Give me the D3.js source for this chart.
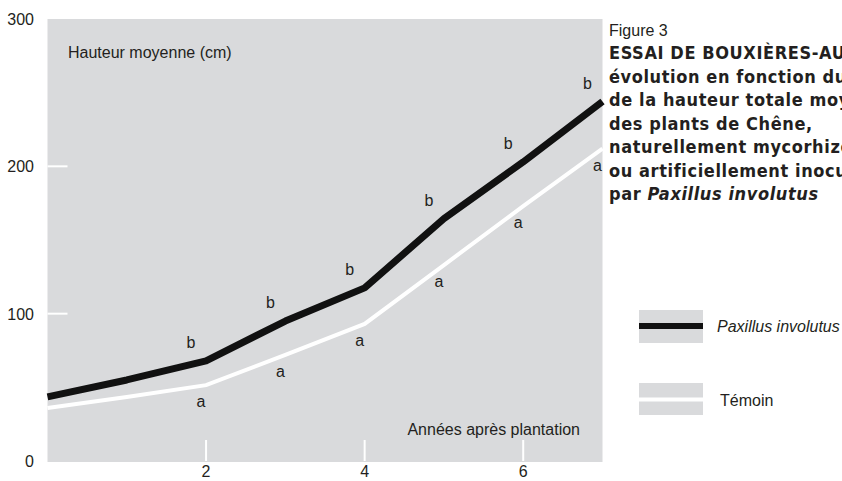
<!DOCTYPE html>
<html><head><meta charset="utf-8">
<script src="https://cdn.jsdelivr.net/npm/d3@7"></script>
<style>
body{margin:0;background:#fff;}
svg{display:block;}
text{font-family:"Liberation Sans",Arial,Helvetica,sans-serif;fill:#231f20;}
.ttl{font-family:"Liberation Sans Narrow","DejaVu Sans Condensed","Liberation Sans",sans-serif;font-weight:bold;font-size:18px;letter-spacing:0.6px;}
</style></head>
<body><svg id="c" width="842" height="481"></svg>
<script>
const years = [0,1,2,3,4,5,6,7];
const paxillus = [43.5,55,68,95,117.5,164.5,203,244];
const temoin = [36,43.5,51.5,72,93,133,173,212];
const labelYears = [2,3,4,5,6,7];
const paxLetters = ["b","b","b","b","b","b"];
const temLetters = ["a","a","a","a","a","a"];
const yTicks = [0,100,200,300];
const xTicks = [2,4,6];
const titleLines = ["ESSAI DE BOUXIÈRES-AUX-CHÊNES :","évolution en fonction du temps","de la hauteur totale moyenne","des plants de Chêne,","naturellement mycorhizés","ou artificiellement inoculés"];

const svg = d3.select("#c");
const x = d3.scaleLinear().domain([0,7]).range([47.5,602.5]);
const y = d3.scaleLinear().domain([0,300]).range([461,19]);
const gray = "#d9dadc";

svg.append("rect").attr("x",x(0)).attr("y",y(300)).attr("width",x(7)-x(0)).attr("height",y(0)-y(300)+1).attr("fill",gray);

svg.selectAll(".yt").data(yTicks.filter(d=>d>0&&d<300)).enter().append("line")
  .attr("x1",x(0)).attr("x2",x(0)+20).attr("y1",d=>y(d)).attr("y2",d=>y(d))
  .attr("stroke","#fff").attr("stroke-width",2);
svg.selectAll(".xt").data(xTicks).enter().append("line")
  .attr("x1",d=>x(d)).attr("x2",d=>x(d)).attr("y1",y(0)).attr("y2",y(0)-21)
  .attr("stroke","#fff").attr("stroke-width",2);

svg.selectAll(".yl").data(yTicks).enter().append("text")
  .attr("x",34).attr("y",d=>y(d)+6).attr("text-anchor","end").attr("font-size",16).text(d=>d);
svg.selectAll(".xl").data(xTicks).enter().append("text")
  .attr("x",d=>x(d)).attr("y",477).attr("text-anchor","middle").attr("font-size",16).text(d=>d);

svg.append("text").attr("x",68).attr("y",58).attr("font-size",16).text("Hauteur moyenne (cm)");
svg.append("text").attr("x",580).attr("y",435).attr("text-anchor","end").attr("font-size",16).text("Années après plantation");

const line = d3.line().x((d,i)=>x(years[i])).y(d=>y(d));
svg.append("path").datum(temoin).attr("d",line).attr("fill","none").attr("stroke","#fff").attr("stroke-width",4);
svg.append("path").datum(paxillus).attr("d",line).attr("fill","none").attr("stroke","#111").attr("stroke-width",7).attr("stroke-linejoin","round");

svg.selectAll(".lb").data(labelYears).enter().append("text")
  .attr("x",d=>x(d)-15).attr("y",d=>y(paxillus[d])-13).attr("text-anchor","middle").attr("font-size",16)
  .text((d,i)=>paxLetters[i]);
svg.selectAll(".la").data(labelYears).enter().append("text")
  .attr("x",d=>x(d)-5).attr("y",d=>y(temoin[d])+22).attr("text-anchor","middle").attr("font-size",16)
  .text((d,i)=>temLetters[i]);

svg.append("text").attr("x",609).attr("y",36).attr("font-size",16).text("Figure 3");
const tt = svg.append("g");
titleLines.forEach((t,i)=>{
  tt.append("text").attr("class","ttl").attr("x",609).attr("y",59+i*23.5).text(t);
});
const last = tt.append("text").attr("class","ttl").attr("x",609).attr("y",59+titleLines.length*23.5);
last.append("tspan").text("par ");
last.append("tspan").attr("font-style","italic").text("Paxillus involutus");

const lg = svg.append("g");
lg.append("rect").attr("x",639).attr("y",310).attr("width",64).attr("height",33).attr("fill",gray);
lg.append("line").attr("x1",639).attr("x2",703).attr("y1",326).attr("y2",326).attr("stroke","#111").attr("stroke-width",6);
lg.append("text").attr("x",717).attr("y",332).attr("font-size",16).attr("font-style","italic").text("Paxillus involutus");
lg.append("rect").attr("x",639).attr("y",383).attr("width",64).attr("height",32).attr("fill",gray);
lg.append("line").attr("x1",639).attr("x2",703).attr("y1",399.5).attr("y2",399.5).attr("stroke","#fff").attr("stroke-width",4);
lg.append("text").attr("x",720).attr("y",406).attr("font-size",16).text("Témoin");
</script></body></html>
